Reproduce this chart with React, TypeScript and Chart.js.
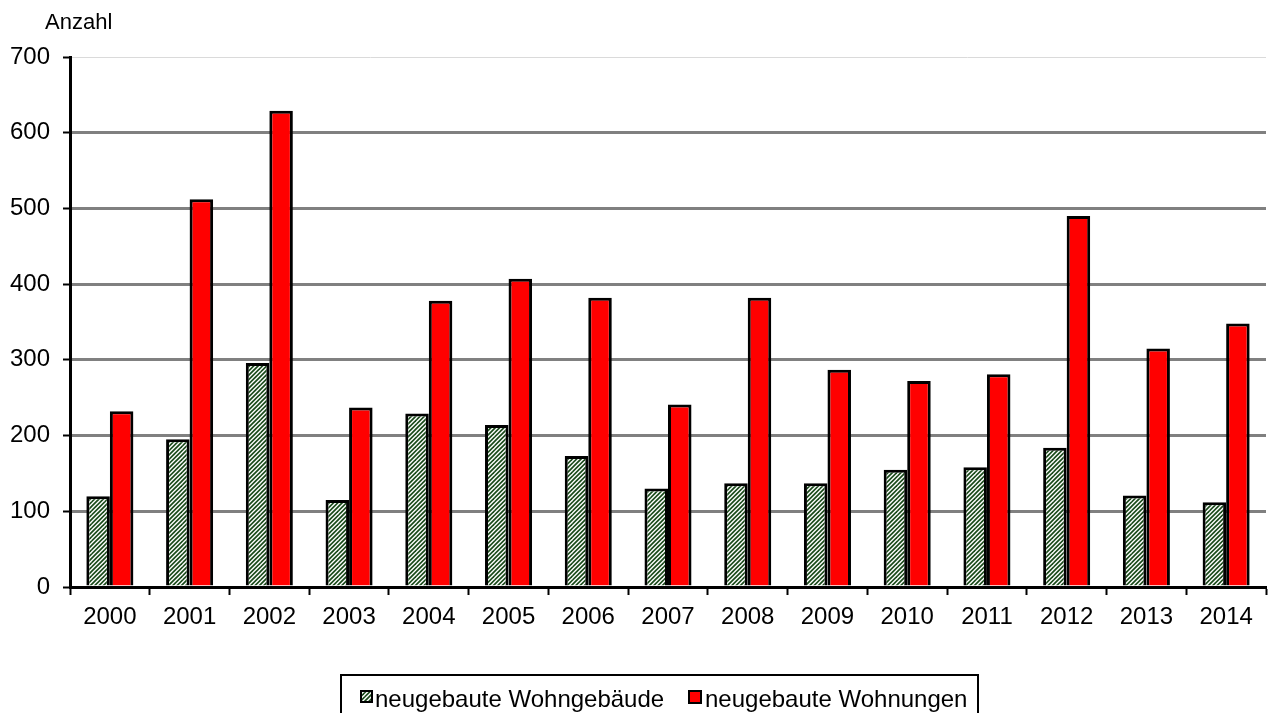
import React, { useEffect, useRef } from "react";
import { Chart, registerables } from "chart.js";

Chart.register(...registerables);

const years = ["2000", "2001", "2002", "2003", "2004", "2005", "2006", "2007", "2008", "2009", "2010", "2011", "2012", "2013", "2014"];
const wohngebaeude = [120, 195, 296, 115, 229, 214, 173, 130, 137, 137, 155, 158, 184, 121, 112];
const wohnungen = [232, 512, 629, 237, 378, 407, 382, 241, 382, 287, 272, 281, 490, 315, 348];
const seriesNames = ["neugebaute Wohngebäude", "neugebaute Wohnungen"];
const yAxisLabel = "Anzahl";

const FONT = "'Liberation Sans', Arial, sans-serif";

function makeHatch(ctx: CanvasRenderingContext2D): CanvasPattern | string {
  const N = 13;
  const k = 3;
  const c = document.createElement("canvas");
  c.width = N;
  c.height = N;
  const g = c.getContext("2d");
  if (!g) return "#1e5a1e";
  g.fillStyle = "#ffffff";
  g.fillRect(0, 0, N, N);
  g.strokeStyle = "#1a4a1a";
  g.lineWidth = 1.7;
  const p = N / k;
  for (let i = -k - 1; i <= 2 * k + 1; i++) {
    const cc = i * p;
    g.beginPath();
    g.moveTo(cc + 2, -2);
    g.lineTo(cc - N - 2, N + 2);
    g.stroke();
  }
  return ctx.createPattern(c, "repeat") || "#1e5a1e";
}

export default function App() {
  const ref = useRef<HTMLCanvasElement | null>(null);

  useEffect(() => {
    const canvas = ref.current;
    if (!canvas) return;
    const ctx = canvas.getContext("2d");
    if (!ctx) return;
    const hatch = makeHatch(ctx);

    const overlay = {
      id: "overlay",
      afterDraw(chart: any) {
        const c: CanvasRenderingContext2D = chart.ctx;
        c.save();
        c.fillStyle = "#000";
        c.font = `22px ${FONT}`;
        c.textAlign = "left";
        c.textBaseline = "alphabetic";
        c.fillText(yAxisLabel, 45, 29);

        c.strokeStyle = "#000";
        c.lineWidth = 2;
        c.strokeRect(341, 675, 637, 60);

        c.fillStyle = hatch as any;
        c.fillRect(361, 691, 11, 11);
        c.lineWidth = 2;
        c.strokeRect(361, 691, 11, 11);
        c.fillStyle = "#000";
        c.font = `24px ${FONT}`;
        c.fillText(seriesNames[0], 375, 707);

        c.fillStyle = "#ff0000";
        c.fillRect(689, 691, 12, 12);
        c.strokeRect(689, 691, 12, 12);
        c.fillStyle = "#000";
        c.fillText(seriesNames[1], 705, 707);
        c.restore();
      },
    };

    const chart = new Chart(ctx, {
      type: "bar",
      data: {
        labels: years,
        datasets: [
          {
            label: seriesNames[0],
            data: wohngebaeude,
            backgroundColor: hatch as any,
            borderColor: "#000",
            borderWidth: 3,
            categoryPercentage: 0.59,
            barPercentage: 1.0,
          },
          {
            label: seriesNames[1],
            data: wohnungen,
            backgroundColor: "#ff0000",
            borderColor: "#000",
            borderWidth: 3,
            categoryPercentage: 0.59,
            barPercentage: 1.0,
          },
        ],
      },
      options: {
        responsive: false,
        animation: false,
        layout: { padding: { top: 57, right: 4, bottom: 0, left: 0 } },
        plugins: {
          legend: { display: false },
          tooltip: { enabled: false },
          title: { display: false },
        },
        scales: {
          x: {
            afterFit: (s: any) => {
              s.height = 126;
            },
            grid: {
              display: true,
              offset: true,
              drawOnChartArea: false,
              drawTicks: true,
              tickLength: 8,
              tickColor: "#000",
              tickWidth: 2,
              color: "#000",
            },
            border: { display: true, color: "#000", width: 3 },
            ticks: { color: "#000", font: { family: FONT, size: 24 }, padding: 8, maxRotation: 0, autoSkip: false },
          },
          y: {
            min: 0,
            max: 700,
            afterFit: (s: any) => {
              s.width = 70;
            },
            ticks: { stepSize: 100, color: "#000", font: { family: FONT, size: 24 }, padding: 13 },
            grid: {
              color: (c: any) => (c.tick && c.tick.value === 700 ? "#dadada" : c.tick && c.tick.value === 0 ? "#000" : "#808080"),
              lineWidth: (c: any) => (c.tick && c.tick.value === 700 ? 1 : 3),
              tickColor: "#000",
              tickLength: 7,
              tickWidth: 2,
              drawTicks: true,
            },
            border: { display: true, color: "#000", width: 3 },
          },
        },
      },
      plugins: [overlay],
    });

    return () => {
      chart.destroy();
    };
  }, []);

  return (
    <div style={{ position: "absolute", left: 0, top: 0, width: 1270, height: 713, background: "#fff" }}>
      <canvas ref={ref} width={1270} height={713} style={{ display: "block" }} />
    </div>
  );
}
